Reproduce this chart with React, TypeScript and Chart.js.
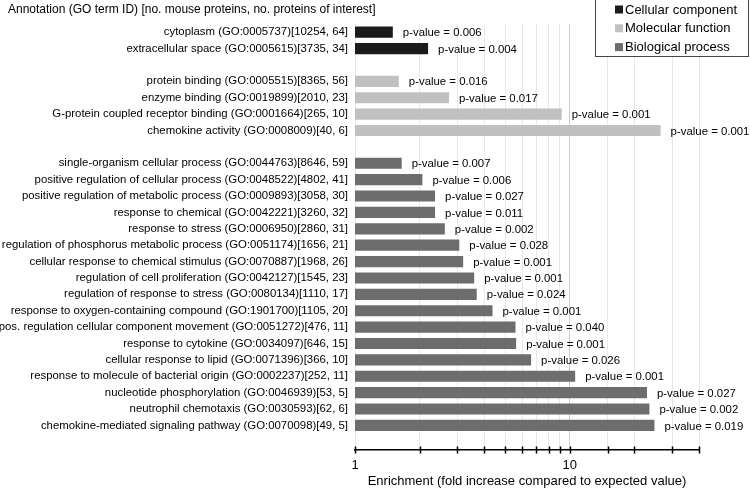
import React, { useEffect, useRef } from "react";
import { Chart, registerables } from "chart.js";

Chart.register(...registerables);

// ---- data ----
const categories: string[] = [
  "cytoplasm (GO:0005737)[10254, 64]",
  "extracellular space (GO:0005615)[3735, 34]",
  "",
  "protein binding (GO:0005515)[8365, 56]",
  "enzyme binding (GO:0019899)[2010, 23]",
  "G-protein coupled receptor binding (GO:0001664)[265, 10]",
  "chemokine activity (GO:0008009)[40, 6]",
  "",
  "single-organism cellular process (GO:0044763)[8646, 59]",
  "positive regulation of cellular process (GO:0048522)[4802, 41]",
  "positive regulation of metabolic process (GO:0009893)[3058, 30]",
  "response to chemical (GO:0042221)[3260, 32]",
  "response to stress (GO:0006950)[2860, 31]",
  "regulation of phosphorus metabolic process (GO:0051174)[1656, 21]",
  "cellular response to chemical stimulus (GO:0070887)[1968, 26]",
  "regulation of cell proliferation (GO:0042127)[1545, 23]",
  "regulation of response to stress (GO:0080134)[1110, 17]",
  "response to oxygen-containing compound (GO:1901700)[1105, 20]",
  "pos. regulation cellular component movement (GO:0051272)[476, 11]",
  "response to cytokine (GO:0034097)[646, 15]",
  "cellular response to lipid (GO:0071396)[366, 10]",
  "response to molecule of bacterial origin (GO:0002237)[252, 11]",
  "nucleotide phosphorylation (GO:0046939)[53, 5]",
  "neutrophil chemotaxis (GO:0030593)[62, 6]",
  "chemokine-mediated signaling pathway (GO:0070098)[49, 5]",
  "",
];

const enrichment: (number | null)[] = [
  1.5, 2.19, null,
  1.6, 2.74, 9.18, 26.5, null,
  1.65, 2.06, 2.36, 2.36, 2.62, 3.06, 3.19, 3.59, 3.69, 4.37,
  5.59, 5.63, 6.61, 10.6, 22.9, 23.5, 24.8, null,
];

const pValues: string[] = [
  "0.006", "0.004", "",
  "0.016", "0.017", "0.001", "0.001", "",
  "0.007", "0.006", "0.027", "0.011", "0.002", "0.028", "0.001", "0.001", "0.024", "0.001",
  "0.040", "0.001", "0.026", "0.001", "0.027", "0.002", "0.019", "",
];

// 0 = Cellular component, 1 = Molecular function, 2 = Biological process
const groups: number[] = [
  0, 0, 0,
  1, 1, 1, 1, 1,
  2, 2, 2, 2, 2, 2, 2, 2, 2, 2, 2, 2, 2, 2, 2, 2, 2, 2,
];

const groupNames: string[] = ["Cellular component", "Molecular function", "Biological process"];
const groupColors: string[] = ["#1b1b1b", "#c0c0c0", "#6d6d6d"];

const xTickLabels: number[] = [1, 10];
const yTitle = "Annotation (GO term ID) [no. mouse proteins, no. proteins of interest]";
const xTitle = "Enrichment (fold increase compared to expected value)";

const FONT = "Arial, 'Liberation Sans', Helvetica, sans-serif";
const SMALL = 11.4;

export default function App() {
  const canvasRef = useRef<HTMLCanvasElement | null>(null);

  useEffect(() => {
    if (!canvasRef.current) return;

    const extras = {
      id: "extras",
      afterDatasetsDraw(chart: any) {
        const ctx = chart.ctx;
        const meta = chart.getDatasetMeta(0);
        ctx.save();
        ctx.font = `${SMALL}px ${FONT}`;
        ctx.fillStyle = "#000";
        ctx.textAlign = "left";
        ctx.textBaseline = "middle";
        meta.data.forEach((bar: any, i: number) => {
          if (enrichment[i] == null || !pValues[i]) return;
          ctx.fillText(`p-value = ${pValues[i]}`, bar.x + 10, bar.y + 1);
        });
        ctx.restore();
      },
      afterDraw(chart: any) {
        const ctx = chart.ctx;
        const xs = chart.scales.x;
        const area = chart.chartArea;
        ctx.save();
        // tick marks crossing the x axis
        ctx.strokeStyle = "#000";
        ctx.lineWidth = 1.5;
        xs.ticks.forEach((t: any) => {
          const px = Math.round(xs.getPixelForValue(t.value)) + 0.5;
          ctx.beginPath();
          ctx.moveTo(px, area.bottom - 3.5);
          ctx.lineTo(px, area.bottom + 3.5);
          ctx.stroke();
        });
        // top-left title
        ctx.font = `12px ${FONT}`;
        ctx.fillStyle = "#000";
        ctx.textAlign = "left";
        ctx.textBaseline = "middle";
        ctx.fillText(yTitle, 8, 10);
        // legend box
        const lx = 595.5, ly = -1.5, lw = 153, lh = 58;
        ctx.fillStyle = "#fff";
        ctx.fillRect(lx, ly, lw, lh);
        ctx.strokeStyle = "#444";
        ctx.lineWidth = 1;
        ctx.strokeRect(lx, ly, lw, lh);
        ctx.font = `13px ${FONT}`;
        groupNames.forEach((name, i) => {
          const cy = 9.5 + i * 18.8;
          ctx.fillStyle = groupColors[i];
          ctx.fillRect(615, cy - 4, 8, 8);
          ctx.fillStyle = "#000";
          ctx.fillText(name, 625, cy + 0.5);
        });
        ctx.restore();
      },
    };

    const chart = new Chart(canvasRef.current, {
      type: "bar",
      data: {
        labels: categories,
        datasets: [
          {
            data: enrichment as any,
            backgroundColor: groups.map((g) => groupColors[g]),
            borderWidth: 0,
            barPercentage: 0.68,
            categoryPercentage: 1,
          },
        ],
      },
      options: {
        indexAxis: "y",
        animation: false,
        responsive: true,
        maintainAspectRatio: false,
        layout: { padding: { top: 24, right: 51, left: 0, bottom: 0 } },
        plugins: {
          legend: { display: false },
          tooltip: { enabled: false },
          title: { display: false },
        },
        scales: {
          x: {
            type: "logarithmic",
            min: 1,
            max: 40,
            afterFit: (s: any) => {
              s.height = 39;
            },
            border: { display: true, color: "#000", width: 1.5 },
            grid: {
              drawTicks: false,
              color: (c: any) => (c.tick && c.tick.value === 10 ? "#cfcfcf" : "#e8e8e8"),
              lineWidth: 1,
            },
            ticks: {
              autoSkip: false,
              padding: 8,
              maxRotation: 0,
              color: "#000",
              font: { size: 13, family: FONT },
              callback: (v: any) => (xTickLabels.includes(Number(v)) ? String(v) : ""),
            },
            title: {
              display: true,
              text: xTitle,
              color: "#000",
              font: { size: 13, family: FONT },
              padding: { top: 0, bottom: 0 },
            },
          },
          y: {
            afterFit: (s: any) => {
              s.width = 355;
            },
            border: { display: false },
            grid: { display: false, drawTicks: false },
            ticks: {
              autoSkip: false,
              padding: 7,
              color: "#000",
              font: { size: SMALL, family: FONT },
            },
          },
        },
      },
      plugins: [extras],
    });

    return () => chart.destroy();
  }, []);

  return (
    <div style={{ position: "fixed", left: 0, top: 0, width: 750, height: 489, background: "#fff" }}>
      <canvas ref={canvasRef} />
    </div>
  );
}
